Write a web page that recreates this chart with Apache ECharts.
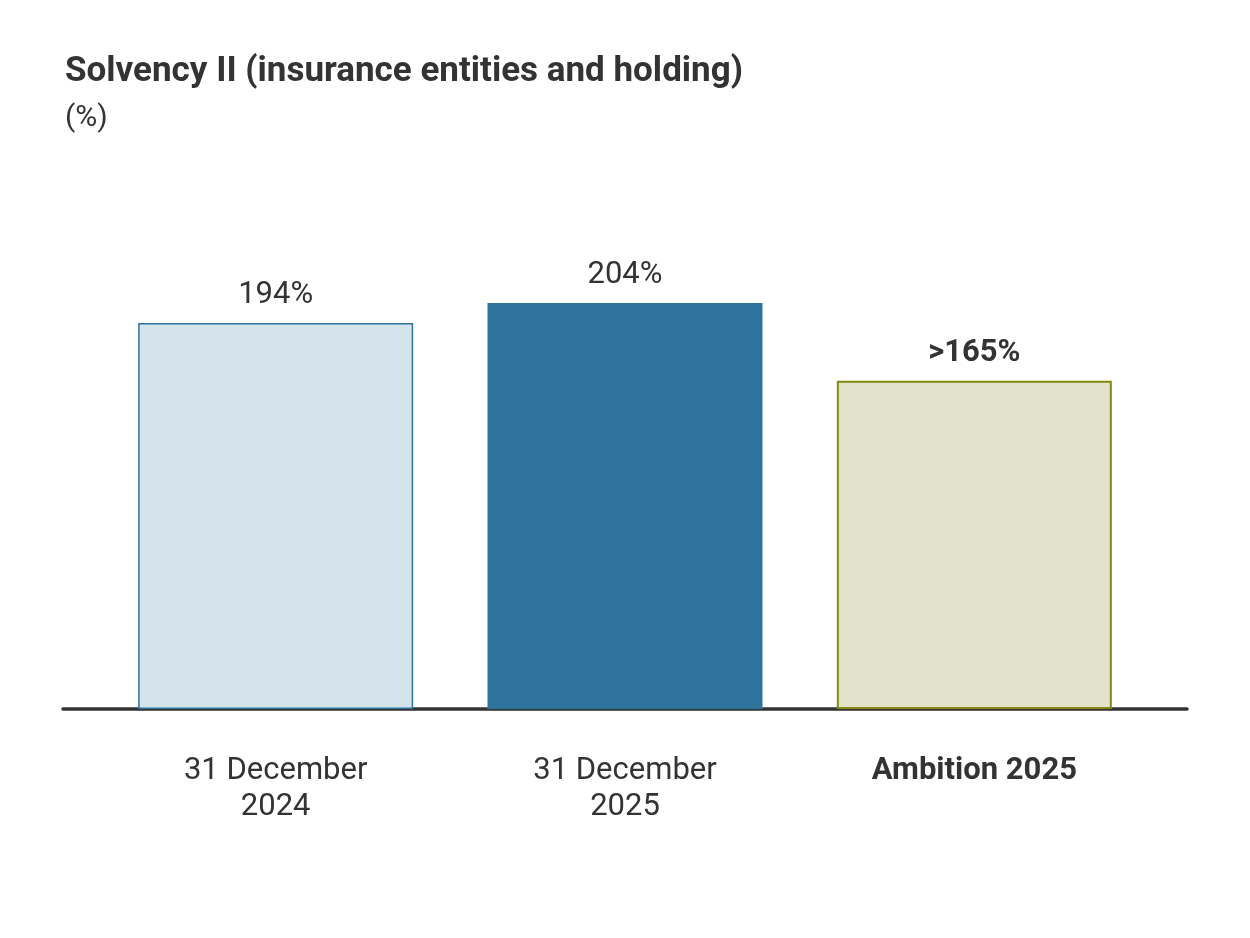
<!DOCTYPE html>
<html>
<head>
<meta charset="utf-8">
<script src="https://cdn.jsdelivr.net/npm/echarts@6/dist/echarts.min.js"></script>
<style>
  html, body { margin: 0; padding: 0; background: #fff; }
  #chart { width: 1250px; height: 938px; }
</style>
</head>
<body>
<div id="chart"></div>
<script>
// chart data
var categories = ['31 December\n2024', '31 December\n2025', 'Ambition 2025'];
var values = [194, 204, 165];
var valueLabels = ['194%', '204%', '>165%'];

var fills = ['#d5e3eb', '#2e739c', '#e3e3cb'];
var borders = ['#2e739c', '#2e739c', '#848a10'];

var chart = echarts.init(document.getElementById('chart'));

chart.setOption({
  backgroundColor: '#fff',
  textStyle: { fontFamily: 'Roboto' },
  title: {
    text: 'Solvency II (insurance entities and holding)',
    subtext: '(%)',
    left: 60,
    top: 50,
    itemGap: 13,
    textStyle: { fontSize: 35, fontWeight: 'bold', color: '#333', fontFamily: 'Roboto' },
    subtextStyle: { fontSize: 30, color: '#333', fontFamily: 'Roboto' }
  },
  grid: [
    { left: 101, right: 101, top: 112, bottom: 229 },
    { left: 63, right: 63, top: 112, bottom: 229 }
  ],
  xAxis: [
    {
      type: 'category',
      gridIndex: 0,
      data: categories,
      axisLine: { show: false },
      axisTick: { show: false },
      axisLabel: {
        margin: 44,
        fontSize: 31,
        lineHeight: 36,
        color: '#333',
        formatter: function (v, i) {
          return i === 2 ? '{b|' + v + '}' : v;
        },
        rich: {
          b: { fontSize: 31, fontWeight: 'bold', color: '#333', fontFamily: 'Roboto' }
        }
      }
    },
    {
      type: 'category',
      gridIndex: 1,
      data: [''],
      axisLine: { show: true, lineStyle: { color: '#333', width: 3.5, cap: 'round' } },
      axisTick: { show: false },
      axisLabel: { show: false }
    }
  ],
  yAxis: [
    { type: 'value', gridIndex: 0, min: 0, max: 300, show: false },
    { type: 'value', gridIndex: 1, min: 0, max: 300, show: false }
  ],
  series: [
    {
      type: 'bar',
      xAxisIndex: 0,
      yAxisIndex: 0,
      barWidth: 275,
      silent: true,
      data: values.map(function (v, i) {
        return {
          value: v,
          itemStyle: { color: fills[i], borderColor: borders[i], borderWidth: i === 2 ? 2 : 1.5 },
          label: {
            show: true,
            position: 'top',
            distance: 12,
            formatter: valueLabels[i],
            fontSize: 31,
            color: '#333',
            fontWeight: i === 2 ? 'bold' : 'normal',
            fontFamily: 'Roboto'
          }
        };
      })
    }
  ]
});
</script>
</body>
</html>
